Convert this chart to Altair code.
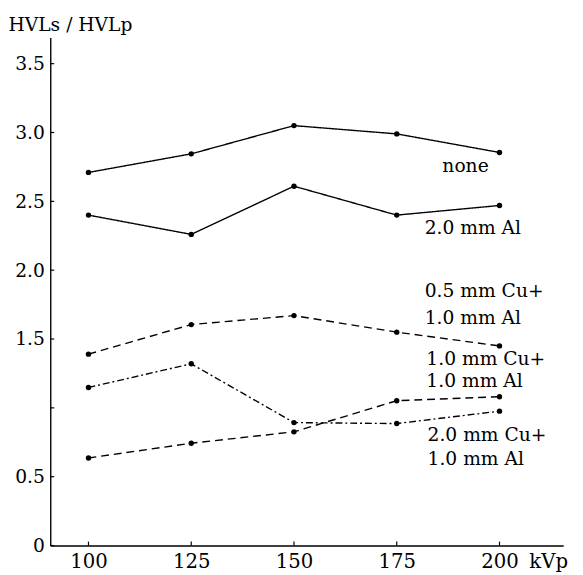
import altair as alt
import pandas as pd

# ---- data ----
kvp = [100, 125, 150, 175, 200]
series_names = ["none", "2.0 mm Al", "0.5 mm Cu + 1.0 mm Al",
                "1.0 mm Cu + 1.0 mm Al", "2.0 mm Cu + 1.0 mm Al"]
none_vals = [2.71, 2.845, 3.05, 2.99, 2.855]
al2_vals = [2.40, 2.26, 2.61, 2.40, 2.47]
cu05_vals = [1.39, 1.605, 1.67, 1.55, 1.45]
cu10_vals = [1.148, 1.32, 0.893, 0.886, 0.976]
cu20_vals = [0.636, 0.743, 0.826, 1.052, 1.081]

x_ticks = [100, 125, 150, 175, 200]
y_ticks = [0, 0.5, 1.0, 1.5, 2.0, 2.5, 3.0, 3.5]

ann_text = ["none", "2.0 mm Al", "0.5 mm Cu+", "1.0 mm Al",
            "1.0 mm Cu+", "1.0 mm Al", "2.0 mm Cu+", "1.0 mm Al"]
ann_kvp = [186.1, 181.8, 181.8, 181.8, 182.2, 182.2, 182.5, 182.5]
ann_val = [2.714, 2.266, 1.802, 1.612, 1.309, 1.155, 0.762, 0.584]

# ---- tables ----
rows = []
for name, vals in zip(series_names, [none_vals, al2_vals, cu05_vals, cu10_vals, cu20_vals]):
    for k, v in zip(kvp, vals):
        rows.append({"series": name, "kvp": k, "value": v})
df = pd.DataFrame(rows)
ann_df = pd.DataFrame({"label": ann_text, "kvp": ann_kvp, "value": ann_val})
xt_df = pd.DataFrame({"kvp": x_ticks})
yt_df = pd.DataFrame({"value": y_ticks})

FONT = "DejaVu Serif"
xs = alt.Scale(domain=[90.7, 215.5], nice=False, zero=False)
ys = alt.Scale(domain=[0, 3.69], nice=False, zero=False)

x_axis = alt.Axis(values=x_ticks, ticks=False, tickSize=0, labelPadding=22,
                  labelBaseline="alphabetic", labelFontSize=20,
                  title="kVp", titleX=487, titleY=22, titleAlign="left",
                  titleBaseline="alphabetic", titleFontSize=20, titleFontWeight="normal")
y_axis = alt.Axis(values=y_ticks, ticks=False, tickSize=0, labelPadding=6,
                  labelFontSize=19,
                  labelExpr="datum.value == 1 ? '' : (datum.value == 0 ? '0' : format(datum.value, '.1f'))",
                  title="HVLs / HVLp", titleAngle=0, titleX=-43, titleY=-7,
                  titleAlign="left", titleBaseline="alphabetic", titleFontSize=19,
                  titleFontWeight="normal")

X = lambda: alt.X("kvp:Q", scale=xs, axis=x_axis)
Y = lambda: alt.Y("value:Q", scale=ys, axis=y_axis)

lines = alt.Chart(df).mark_line(color="black", strokeWidth=1.4).encode(
    x=X(), y=Y(),
    strokeDash=alt.StrokeDash("series:N", legend=None, scale=alt.Scale(
        domain=series_names,
        range=[[1, 0], [1, 0], [8, 5], [7, 3, 2, 3], [8, 5]])),
    detail="series:N",
)
points = alt.Chart(df).mark_circle(color="black", size=30, opacity=1).encode(x=X(), y=Y())

yticks = alt.Chart(yt_df).mark_rule(color="black", strokeWidth=1.2).encode(
    y=Y(), x=alt.value(0), x2=alt.value(4))
xticks = alt.Chart(xt_df).mark_rule(color="black", strokeWidth=1.2).encode(
    x=X(), y=alt.value(517), y2=alt.value(513))

labels = alt.Chart(ann_df).mark_text(align="left", baseline="alphabetic", font=FONT,
                                     fontSize=19, color="black").encode(
    x=X(), y=Y(), text="label:N")

chart = alt.layer(lines, points, yticks, xticks, labels).properties(
    width=522, height=517,
    autosize=alt.AutoSizeParams(type="none"),
    padding={"left": 43, "top": 25, "right": 12, "bottom": 28},
    background="white",
).configure_axis(
    domainColor="black", domainWidth=1.4, grid=False,
    labelFont=FONT, titleFont=FONT, labelColor="black", titleColor="black",
).configure_view(stroke=None)

chart.save("out.html", embed_options={"renderer": "svg", "actions": False})
